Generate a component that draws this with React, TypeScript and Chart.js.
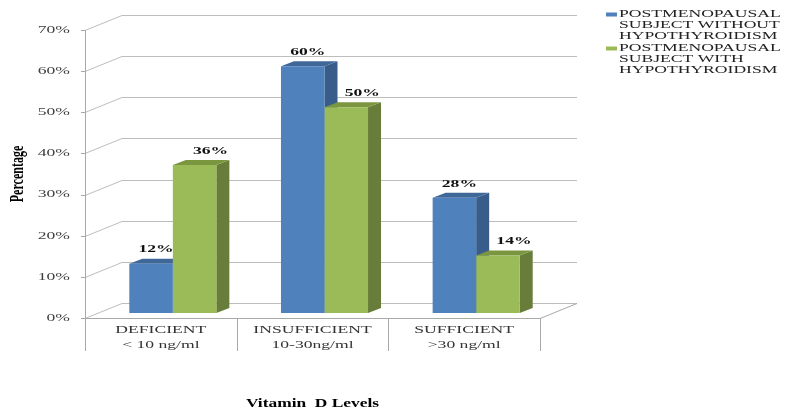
import React, { useEffect, useRef } from "react";
import { Chart, registerables } from "chart.js";

Chart.register(...registerables);

// ---- data ----
const categories: string[][] = [
  ["DEFICIENT", "< 10 ng/ml"],
  ["INSUFFICIENT", "10-30ng/ml"],
  ["SUFFICIENT", ">30 ng/ml"],
];
const seriesWithout: number[] = [12, 60, 28];
const seriesWith: number[] = [36, 50, 14];
const seriesNames: string[][] = [
  ["POSTMENOPAUSAL", "SUBJECT WITHOUT", "HYPOTHYROIDISM"],
  ["POSTMENOPAUSAL", "SUBJECT WITH", "HYPOTHYROIDISM"],
];
const yTickValues: number[] = [0, 10, 20, 30, 40, 50, 60, 70];
const yTitle = "Percentage";
const xTitle = "Vitamin  D Levels";

// ---- style ----
const SERIF = '"Liberation Serif", "Times New Roman", serif';
const frontColors = ["#4F81BD", "#9BBB59"];
const sideColors = ["#385D8A", "#687D3A"];
const topColors = ["#3F6899", "#7A963F"];
const GRID = "#BDBDBD";
const AXIS = "#A8A8A8";
const SX = 1.6;
const WALL_DX = 37, WALL_DY = -15;
const BAR_DX = 12, BAR_DY = -5;
const DEPTH_DX = 13, DEPTH_DY = -5;
const labelOffsetX = [5, 16];

function sText(ctx: CanvasRenderingContext2D, text: string, x: number, y: number, font: string, align: CanvasTextAlign, color: string, sx = SX) {
  ctx.save();
  ctx.font = font;
  ctx.fillStyle = color;
  ctx.textBaseline = "middle";
  ctx.textAlign = align;
  ctx.translate(x, y);
  ctx.scale(sx, 1);
  ctx.fillText(text, 0, 0);
  ctx.restore();
}

const excel3d = {
  id: "excel3d",
  beforeDatasetsDraw(chart: any) {
    const ctx: CanvasRenderingContext2D = chart.ctx;
    const { left, right, top, bottom } = chart.chartArea;
    const ys = chart.scales.y;
    const xs = chart.scales.x;
    ctx.save();
    ctx.lineWidth = 1;
    ctx.strokeStyle = GRID;
    yTickValues.forEach((v) => {
      const y = Math.round(ys.getPixelForValue(v)) + 0.5;
      ctx.beginPath();
      ctx.moveTo(left, y);
      ctx.lineTo(left + WALL_DX, y + WALL_DY);
      ctx.lineTo(right + WALL_DX, y + WALL_DY);
      ctx.stroke();
    });
    ctx.strokeStyle = AXIS;
    ctx.beginPath();
    ctx.moveTo(right, bottom + 0.5);
    ctx.lineTo(right + WALL_DX, bottom + WALL_DY + 0.5);
    ctx.stroke();
    ctx.beginPath();
    ctx.moveTo(left, bottom + 0.5);
    ctx.lineTo(right, bottom + 0.5);
    ctx.stroke();
    ctx.beginPath();
    ctx.moveTo(left + 0.5, top);
    ctx.lineTo(left + 0.5, bottom);
    ctx.stroke();
    yTickValues.forEach((v) => {
      const y = Math.round(ys.getPixelForValue(v)) + 0.5;
      ctx.beginPath();
      ctx.moveTo(left - 4, y);
      ctx.lineTo(left, y);
      ctx.stroke();
    });
    const n = categories.length;
    const cw = (xs.right - xs.left) / n;
    for (let i = 0; i <= n; i++) {
      const x = Math.round(xs.left + cw * i) + 0.5;
      ctx.beginPath();
      ctx.moveTo(x, bottom);
      ctx.lineTo(x, bottom + 33);
      ctx.stroke();
    }
    ctx.restore();

    // bar side & top faces (behind the fronts)
    ctx.save();
    ctx.translate(BAR_DX, BAR_DY);
    chart.data.datasets.forEach((ds: any, di: number) => {
      const meta = chart.getDatasetMeta(di);
      meta.data.forEach((el: any) => {
        const l = el.x - el.width / 2;
        const r = el.x + el.width / 2;
        const t = el.y;
        const b = el.base;
        ctx.fillStyle = sideColors[di];
        ctx.beginPath();
        ctx.moveTo(r, t);
        ctx.lineTo(r + DEPTH_DX, t + DEPTH_DY);
        ctx.lineTo(r + DEPTH_DX, b + DEPTH_DY);
        ctx.lineTo(r, b);
        ctx.closePath();
        ctx.fill();
        ctx.fillStyle = topColors[di];
        ctx.beginPath();
        ctx.moveTo(l, t);
        ctx.lineTo(l + DEPTH_DX, t + DEPTH_DY);
        ctx.lineTo(r + DEPTH_DX, t + DEPTH_DY);
        ctx.lineTo(r, t);
        ctx.closePath();
        ctx.fill();
      });
    });
  },
  afterDatasetsDraw(chart: any) {
    chart.ctx.restore();
  },
  afterDraw(chart: any) {
    const ctx: CanvasRenderingContext2D = chart.ctx;
    const { left, right, top, bottom } = chart.chartArea;
    const ys = chart.scales.y;
    const xs = chart.scales.x;
    yTickValues.forEach((v) => {
      sText(ctx, v + "%", left - 15, ys.getPixelForValue(v), `11px ${SERIF}`, "right", "#404040");
    });
    categories.forEach((lines, i) => {
      const x = xs.getPixelForValue(i);
      sText(ctx, lines[0], x, bottom + 12, `11px ${SERIF}`, "center", "#333333");
      sText(ctx, lines[1], x, bottom + 27, `11px ${SERIF}`, "center", "#333333");
    });
    chart.data.datasets.forEach((ds: any, di: number) => {
      const meta = chart.getDatasetMeta(di);
      meta.data.forEach((el: any, i: number) => {
        sText(ctx, ds.data[i] + "%", el.x + BAR_DX + labelOffsetX[di], el.y + BAR_DY - 14, `bold 11px ${SERIF}`, "center", "#111111");
      });
    });
    sText(ctx, xTitle, (left + right) / 2, 404, `bold 12px ${SERIF}`, "center", "#000000", 1.45);
    ctx.save();
    ctx.translate(18, (top + bottom) / 2);
    ctx.rotate(-Math.PI / 2);
    ctx.scale(1, SX);
    ctx.font = `bold 12px ${SERIF}`;
    ctx.fillStyle = "#000000";
    ctx.textAlign = "center";
    ctx.textBaseline = "middle";
    ctx.fillText(yTitle, 0, 0);
    ctx.restore();
    const lx = 606;
    seriesNames.forEach((lines, di) => {
      const y0 = 14.5 + di * 34;
      ctx.fillStyle = frontColors[di];
      ctx.fillRect(lx, y0 - 2, 11, 4);
      lines.forEach((ln, k) => {
        sText(ctx, ln, lx + 13, y0 + k * 11, `11px ${SERIF}`, "left", "#222222");
      });
    });
  },
};

export default function App() {
  const ref = useRef<HTMLCanvasElement>(null);
  useEffect(() => {
    if (!ref.current) return;
    const chart = new Chart(ref.current, {
      type: "bar",
      data: {
        labels: categories.map((c) => c[0]),
        datasets: [
          { label: seriesNames[0].join(" "), data: seriesWithout, backgroundColor: frontColors[0], borderWidth: 0 },
          { label: seriesNames[1].join(" "), data: seriesWith, backgroundColor: frontColors[1], borderWidth: 0 },
        ],
      },
      options: {
        responsive: false,
        animation: false,
        layout: { padding: { left: 85, right: 246, top: 30, bottom: 92 } },
        datasets: { bar: { categoryPercentage: 0.574, barPercentage: 1 } },
        plugins: { legend: { display: false }, tooltip: { enabled: false } },
        scales: {
          x: { display: false },
          y: { display: false, min: 0, max: 70 },
        },
      },
      plugins: [excel3d],
    });
    return () => chart.destroy();
  }, []);
  return (
    <div style={{ position: "absolute", left: 0, top: 0, width: 786, height: 410, background: "#fff" }}>
      <canvas ref={ref} width={786} height={410} />
    </div>
  );
}
